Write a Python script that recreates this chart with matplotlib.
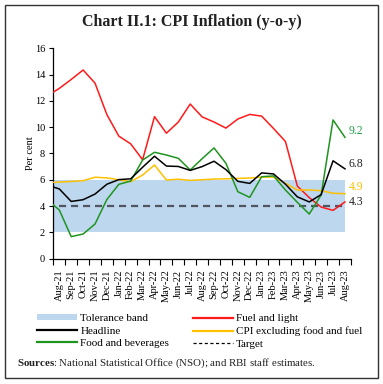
import numpy as np
import matplotlib
matplotlib.use("Agg")
import matplotlib.pyplot as plt
from matplotlib.patches import Rectangle, Patch
from matplotlib.lines import Line2D

# data: Jul-21 .. Aug-23 (Jul-21 only feeds the clipped first segment)
months = ['Jul-21', 'Aug-21', 'Sep-21', 'Oct-21', 'Nov-21', 'Dec-21',
          'Jan-22', 'Feb-22', 'Mar-22', 'Apr-22', 'May-22', 'Jun-22',
          'Jul-22', 'Aug-22', 'Sep-22', 'Oct-22', 'Nov-22', 'Dec-22',
          'Jan-23', 'Feb-23', 'Mar-23', 'Apr-23', 'May-23', 'Jun-23',
          'Jul-23', 'Aug-23']
headline = [5.59, 5.30, 4.35, 4.48, 4.91, 5.66,
            6.01, 6.07, 6.95, 7.79, 7.04, 7.01, 6.71, 7.00, 7.41, 6.77, 5.88, 5.72,
            6.52, 6.44, 5.66, 4.70, 4.31, 4.87, 7.44, 6.83]
fuel = [12.38, 12.95, 13.63, 14.35, 13.35, 10.95,
        9.32, 8.73, 7.52, 10.80, 9.54, 10.39, 11.76, 10.78, 10.39, 9.93, 10.62, 10.97,
        10.84, 9.90, 8.91, 5.52, 4.64, 3.92, 3.67, 4.31]
core = [5.78, 5.82, 5.87, 5.93, 6.19, 6.14,
        6.00, 5.85, 6.36, 7.12, 5.98, 6.04, 5.95, 6.00, 6.05, 6.07, 6.10, 6.13,
        6.20, 6.20, 5.73, 5.22, 5.22, 5.17, 4.97, 4.94]
food = [4.46, 3.70, 1.67, 1.87, 2.63, 4.50,
        5.65, 5.90, 7.50, 8.09, 7.88, 7.63, 6.74, 7.60, 8.42, 7.25, 5.09, 4.66,
        6.23, 6.29, 5.22, 4.28, 3.39, 4.84, 10.55, 9.23]
band_low, band_high = 2, 6
target = 4

plt.rcParams['font.family'] = ['Liberation Serif', 'DejaVu Serif']
plt.rcParams['mathtext.fontset'] = 'custom'
plt.rcParams['mathtext.rm'] = 'Liberation Serif'
plt.rcParams['mathtext.bf'] = 'Liberation Serif:bold'

RED = '#ff1a1a'
GREEN = '#1f941f'
GOLD = '#ffc000'
BAND = '#bdd7ee'

x = np.arange(len(months)) - 1  # Aug-21 sits at 0

fig = plt.figure(figsize=(3.83, 3.84), dpi=100)
ax = fig.add_axes([53.35 / 383, 1 - 258.6 / 384, (350.9 - 53.35) / 383, (258.6 - 48.3) / 384])

ax.fill_between(x, band_low, band_high, color=BAND, lw=0, zorder=1)
ax.plot(x, [target] * len(x), color='#505560', lw=1.6, ls=(0, (3.2, 2.2)), zorder=2)
ax.plot(x, fuel, color=RED, lw=1.1, zorder=3)
ax.plot(x, core, color=GOLD, lw=1.1, zorder=4)
ax.plot(x, food, color=GREEN, lw=1.1, zorder=5)
ax.plot(x, headline, color='black', lw=1.1, zorder=6)

ax.set_xlim(-0.5, 24.5)
ax.set_ylim(0, 16)
ax.set_yticks(range(0, 17, 2))
ax.tick_params(axis='y', labelsize=7.5, length=3, width=0.8, pad=3)

labels = months[1:]
ax.set_xticks(np.arange(len(labels)))
ax.set_xticklabels(labels, rotation=90, fontsize=7.5)
ax.set_xticks(np.arange(len(labels) + 1) - 0.5, minor=True)
ax.tick_params(axis='x', which='major', length=0, pad=8)
ax.tick_params(axis='x', which='minor', length=4, width=0.8)

for s in ['top', 'right']:
    ax.spines[s].set_visible(False)
for s in ['left', 'bottom']:
    ax.spines[s].set_linewidth(0.9)

ax.set_ylabel('Per cent', fontsize=7.5, labelpad=0)

# end-of-series value labels
last = x[-1]
ax.annotate(f'{food[-1]:.1f}', (last, food[-1]), xytext=(2.5, 4.5), textcoords='offset points',
            color='#1f9e4a', fontsize=8.5, va='center', ha='left')
ax.annotate(f'{headline[-1]:.1f}', (last, headline[-1]), xytext=(2.5, 3.5), textcoords='offset points',
            color='#222222', fontsize=8.5, va='center', ha='left')
ax.annotate(f'{core[-1]:.1f}', (last, core[-1]), xytext=(2.5, 4.5), textcoords='offset points',
            color=GOLD, fontsize=8.5, va='center', ha='left')
ax.annotate(f'{fuel[-1]:.1f}', (last, fuel[-1]), xytext=(2.5, 0), textcoords='offset points',
            color='#222222', fontsize=8.5, va='center', ha='left')

fig.text(192 / 383, 1 - 22 / 384, 'Chart II.1: CPI Inflation (y-o-y)', ha='center', va='center',
         fontsize=11.5, fontweight='bold', color='#222222')

handles = [Patch(facecolor=BAND, edgecolor='none'),
           Line2D([], [], color='black', lw=1.6),
           Line2D([], [], color=GREEN, lw=1.6),
           Line2D([], [], color=RED, lw=1.6),
           Line2D([], [], color=GOLD, lw=1.6),
           Line2D([], [], color='black', lw=0.9, ls=(0, (2.5, 2)))]
names = ['Tolerance band', 'Headline', 'Food and beverages',
         'Fuel and light', 'CPI excluding food and fuel', 'Target']
fig.legend(handles, names, ncol=2, loc='upper left', bbox_to_anchor=(37 / 383, 1 - 314 / 384),
           frameon=False, fontsize=8, handlelength=3.6, handleheight=0.5, handletextpad=0.3,
           columnspacing=2.1, labelspacing=0.3, borderpad=0, borderaxespad=0)

fig.text(17 / 383, 1 - 363 / 384, r'$\mathbf{Sources}$: National Statistical Office (NSO); and RBI staff estimates.',
         ha='left', va='center', fontsize=7.8, color='#222222')

fig.add_artist(Rectangle((5 / 383, 6 / 384), 373 / 383, 373 / 384, transform=fig.transFigure,
                         fill=False, edgecolor='#333333', lw=1.0))

fig.savefig('out.png', dpi=100)
